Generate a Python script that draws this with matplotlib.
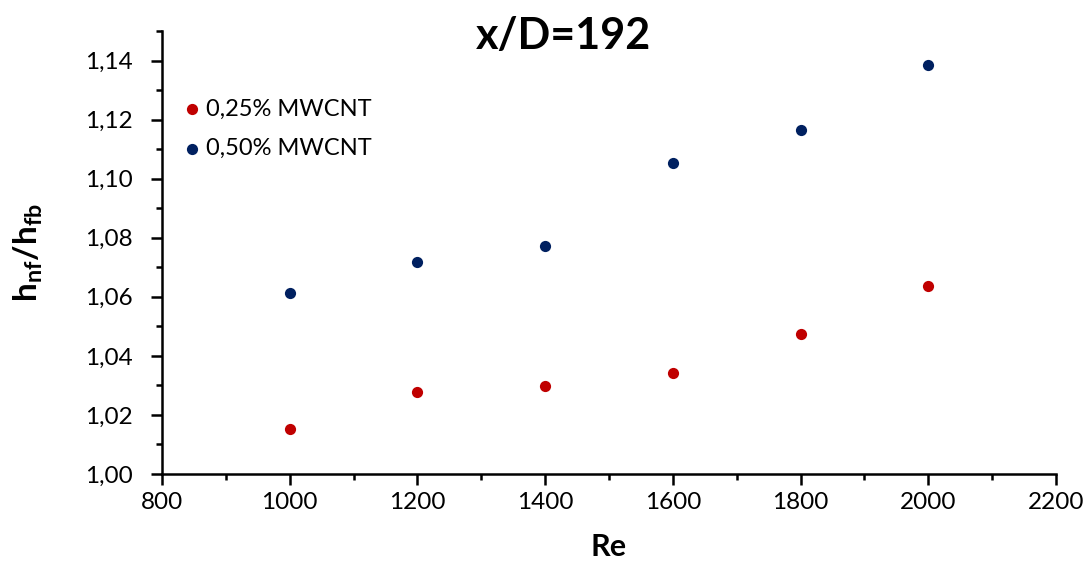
import matplotlib
matplotlib.use("Agg")
import matplotlib.pyplot as plt
from matplotlib.ticker import MultipleLocator, FuncFormatter

# data
re_values = [1000, 1200, 1400, 1600, 1800, 2000]
ratio_025 = [1.0152, 1.0277, 1.0298, 1.0342, 1.0474, 1.0636]
ratio_050 = [1.0613, 1.0717, 1.0772, 1.1052, 1.1164, 1.1384]
series_labels = ["0,25% MWCNT", "0,50% MWCNT"]
series_colors = ["#C00000", "#002060"]

plt.rcParams['font.family'] = ['Lato', 'DejaVu Sans']
plt.rcParams['mathtext.fontset'] = 'custom'
plt.rcParams['mathtext.rm'] = 'Lato'
plt.rcParams['mathtext.bf'] = 'Lato:bold'

fig = plt.figure(figsize=(10.86, 5.63), dpi=100)
ax = fig.add_axes([162 / 1086, 1 - 474 / 563, (1056 - 162) / 1086, (474 - 31) / 563])

for vals, lab, col in zip([ratio_025, ratio_050], series_labels, series_colors):
    ax.scatter(re_values, vals, s=65, color=col, label=lab, zorder=3, linewidths=0)

ax.set_xlim(800, 2200)
ax.set_ylim(1.00, 1.15)
ax.xaxis.set_major_locator(MultipleLocator(200))
ax.xaxis.set_minor_locator(MultipleLocator(100))
ax.yaxis.set_major_locator(MultipleLocator(0.02))
ax.yaxis.set_minor_locator(MultipleLocator(0.01))
ax.yaxis.set_major_formatter(FuncFormatter(lambda v, p: f"{v:.2f}".replace('.', ',')))

for side in ['top', 'right']:
    ax.spines[side].set_visible(False)
for side in ['left', 'bottom']:
    ax.spines[side].set_linewidth(1.8)
ax.tick_params(which='major', direction='out', length=8, width=1.8, labelsize=17.5, pad=5)
ax.tick_params(axis='y', which='major', pad=13)
ax.tick_params(which='minor', direction='out', length=4.5, width=1.8)

ax.set_xlabel("Re", fontsize=22, fontweight='bold', labelpad=14)
ax.set_ylabel(r"$\mathbf{h_{nf}/h_{fb}}$", fontsize=24)
ax.yaxis.set_label_coords(-0.131, 0.5)
fig.text(563 / 1086, 1 - 36 / 563, "x/D=192", fontsize=31, fontweight='bold',
         ha='center', va='center')

ax.legend(loc='upper left', bbox_to_anchor=(-0.001, 0.885), frameon=False,
          fontsize=17, handletextpad=0.0, labelspacing=0.78, borderaxespad=0.3,
          handlelength=1.2)

fig.savefig("out.png", dpi=100)
